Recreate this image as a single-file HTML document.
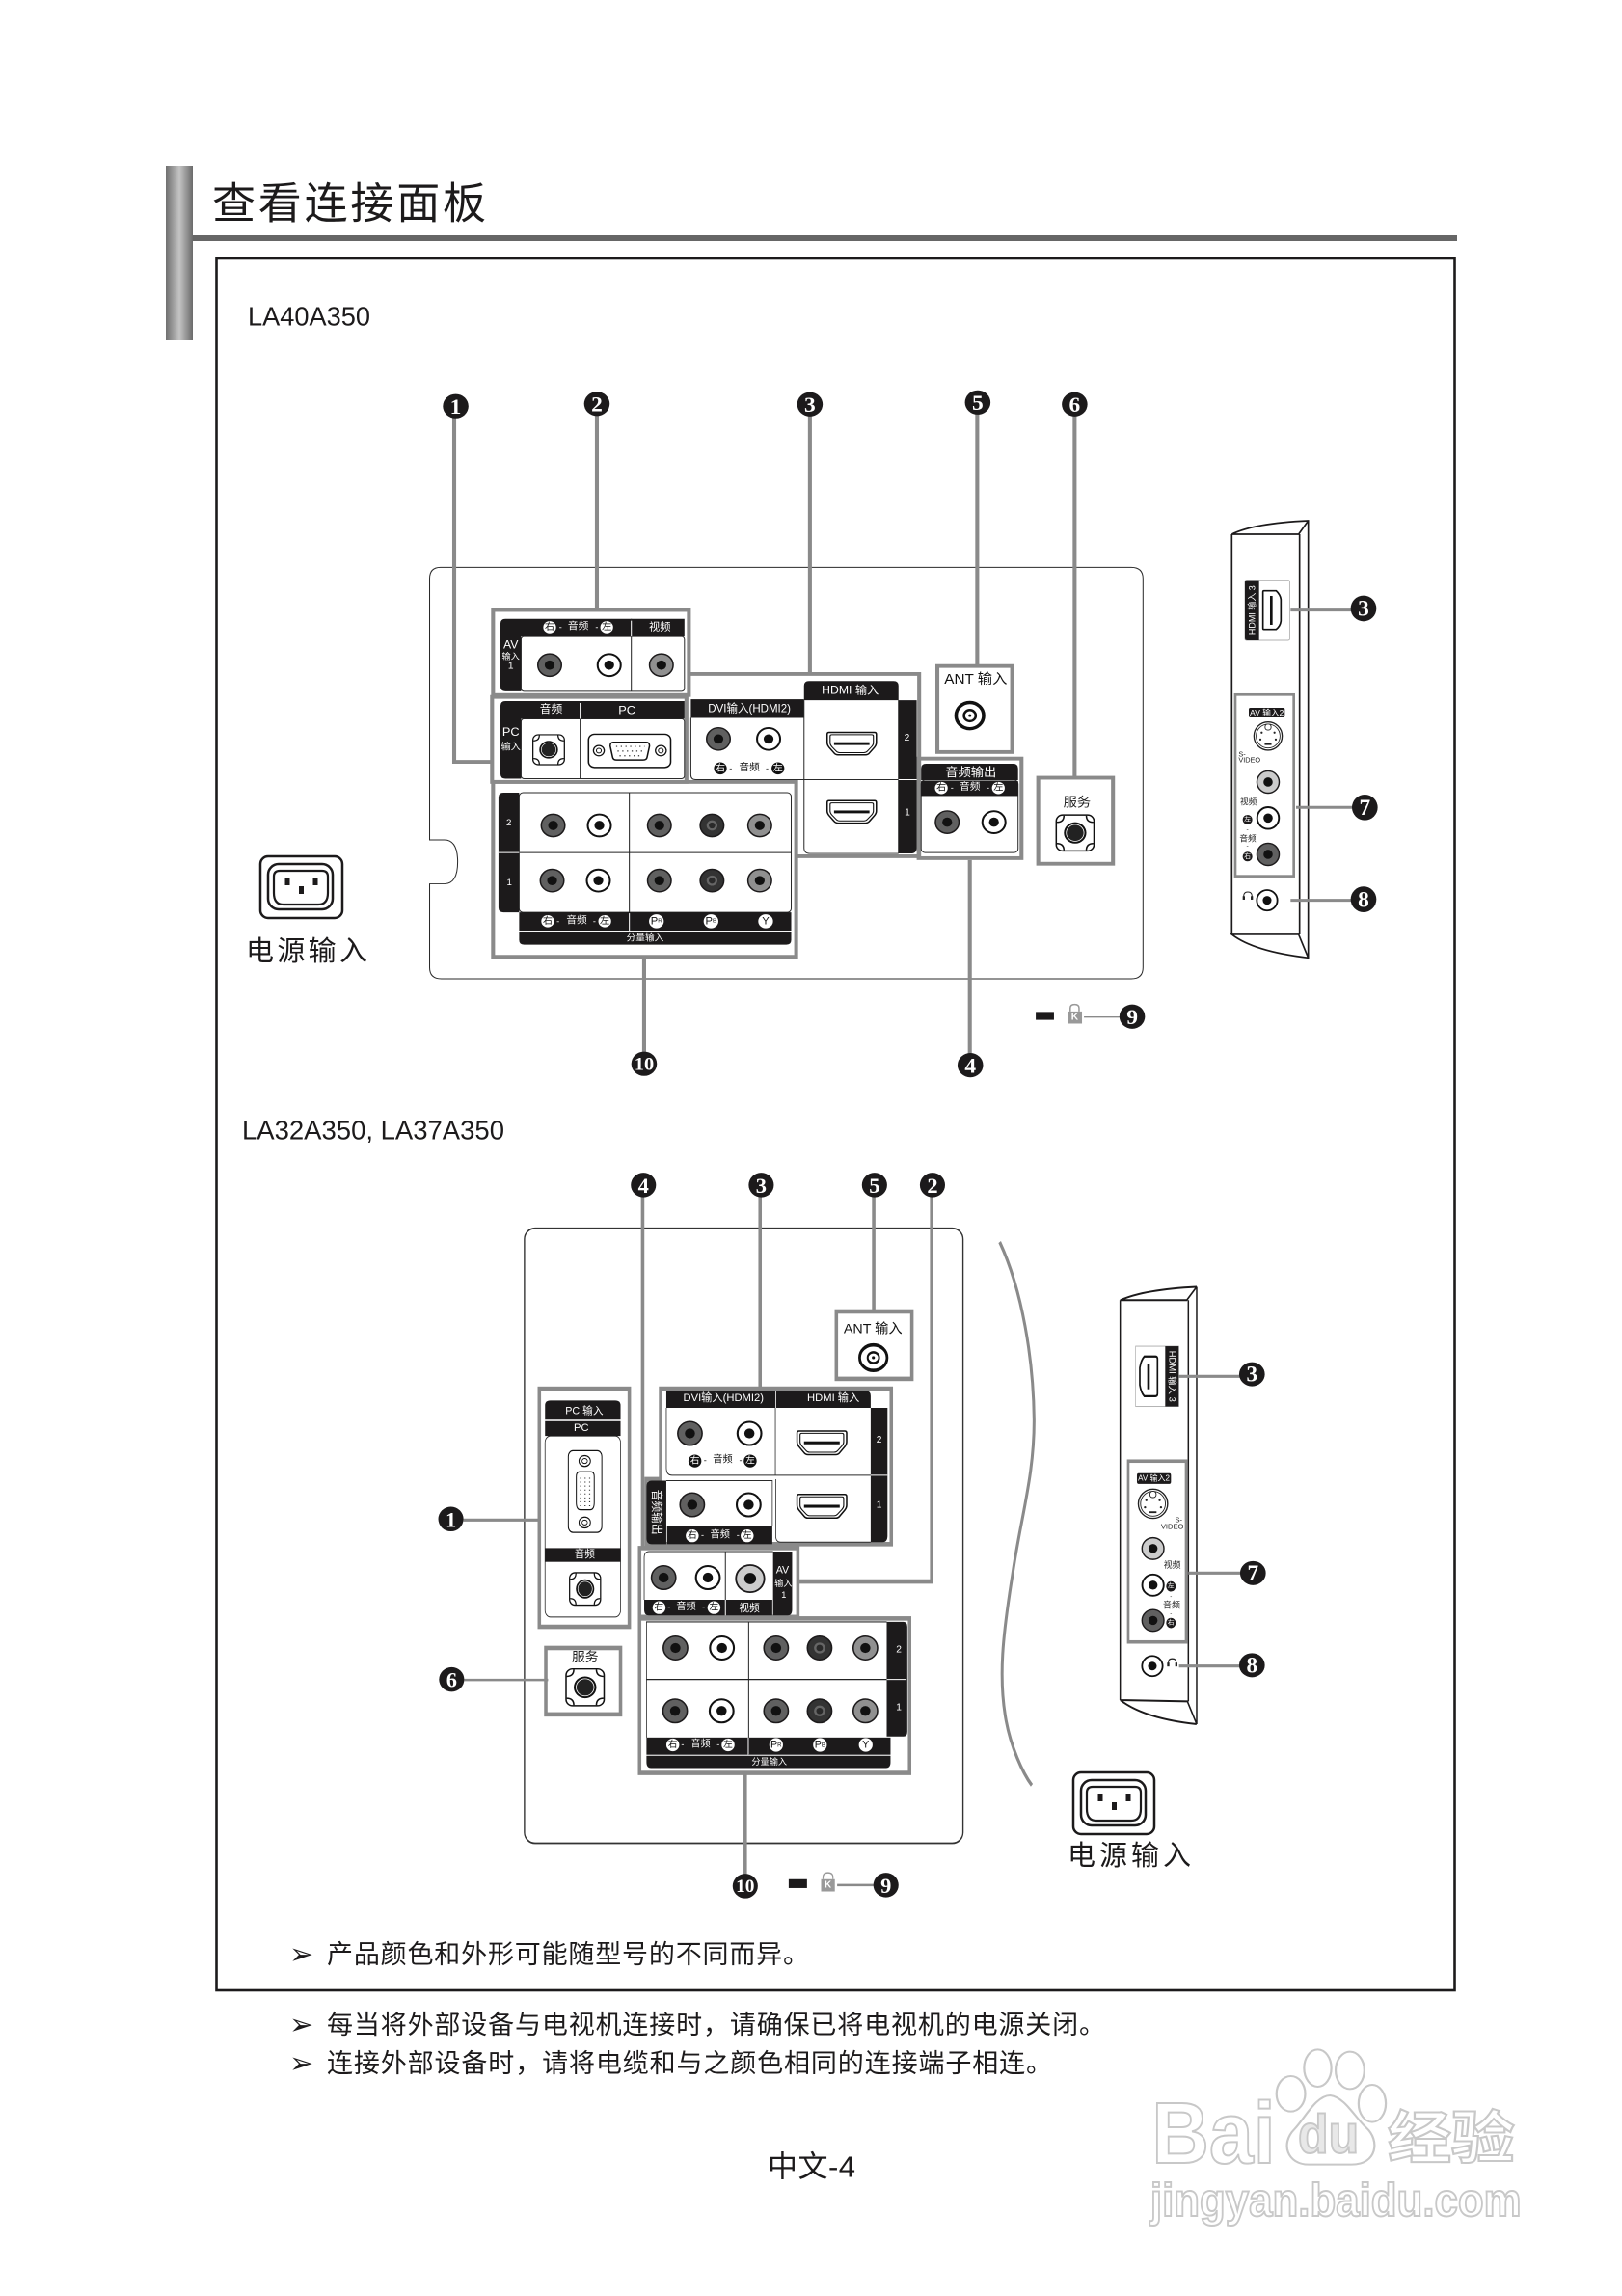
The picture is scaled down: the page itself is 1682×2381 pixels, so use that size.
<!DOCTYPE html>
<html><head><meta charset="utf-8">
<style>
html,body{margin:0;padding:0;background:#fff}
svg{display:block;font-family:"Liberation Sans","Noto Sans CJK SC",sans-serif}
text{dominant-baseline:central}
.m{text-anchor:middle}
.w{fill:#fff}
.k{fill:#111}
.n{font-family:"Liberation Serif",serif;font-weight:bold;fill:#fff;text-anchor:middle}
.s3{transform-box:fill-box;transform-origin:center;transform:scale(1.29,1)}
.s4{transform-box:fill-box;transform-origin:center;transform:scale(1.34,1)}
.g{fill:none;stroke:#8a8a8a;stroke-width:8}
.t{fill:none;stroke:#2a2a2a;stroke-width:2}
.b{fill:#1c1a1b}
</style></head><body>
<svg width="1682" height="2381" viewBox="0 0 1682 2381" xmlns="http://www.w3.org/2000/svg">
<defs>
<linearGradient id="bar" x1="0" x2="1" y1="0" y2="0"><stop offset="0" stop-color="#6f6f6f"/><stop offset=".5" stop-color="#c4c4c4"/><stop offset="1" stop-color="#6a6a6a"/></linearGradient>
<filter id="soft"><feGaussianBlur stdDeviation="0.9"/></filter>
<g id="jd"><circle r="24" fill="#606060" stroke="#1c1a1b" stroke-width="3"/><circle r="10" fill="#111"/></g>
<g id="jw"><circle r="23.500" fill="#fff" stroke="#111" stroke-width="4"/><circle r="10" fill="#111"/></g>
<g id="jg"><circle r="24" fill="#909090" stroke="#1c1a1b" stroke-width="3"/><circle r="10" fill="#111"/></g>
<g id="jl"><circle r="24" fill="#ccc" stroke="#1c1a1b" stroke-width="3"/><circle r="10" fill="#111"/></g>
<g id="jp"><circle r="24" fill="#333" stroke="#1c1a1b" stroke-width="3"/><circle r="11" fill="#666"/><circle r="6.500" fill="#2a2a2a"/></g>
<path id="hs" d="M-50,-20 Q-50,-24 -46,-24 H46 Q50,-24 50,-20 V-2 Q50,3 46,8 L36,20 Q33,24 28,24 H-28 Q-33,24 -36,20 L-46,8 Q-50,3 -50,-2 Z"/>
<g id="hd"><use href="#hs" fill="#fff" stroke="#111" stroke-width="3"/><use href="#hs" fill="none" stroke="#111" stroke-width="2.500" transform="scale(.88,.8)"/><rect x="-36" y="-3" width="72" height="6" fill="#111"/></g>
<g id="ps"><rect x="-32" y="-32" width="64" height="64" rx="11" fill="#fff" stroke="#111" stroke-width="2.500"/>
<path d="M-31,-19Q-19,-19 -19,-31M31,-19Q19,-19 19,-31M-31,19Q-19,19 -19,31M31,19Q19,19 19,31" fill="none" stroke="#111" stroke-width="2.500"/>
<circle r="19" fill="#111"/><circle r="15" fill="#222" stroke="#fff" stroke-width="1.300"/></g>
<g id="sv"><circle r="33" fill="#fff" stroke="#222" stroke-width="3"/><circle r="28" fill="#fff" stroke="#222" stroke-width="2"/><rect x="-7" y="-28" width="14" height="14" rx="6" fill="#fff" stroke="#222" stroke-width="2"/><rect x="-8" y="17" width="16" height="4" fill="#222"/><circle cx="-15" cy="-8" r="2.500" fill="#222"/><circle cx="15" cy="-8" r="2.500" fill="#222"/><circle cx="-18" cy="8" r="2.500" fill="#222"/><circle cx="18" cy="8" r="2.500" fill="#222"/></g>
</defs>

<rect width="1682" height="2381" fill="#fff"/>

<!-- page chrome -->
<rect x="172" y="172" width="28" height="181" fill="url(#bar)"/>
<rect x="200" y="244" width="1311" height="6" fill="#666"/>
<rect x="224.500" y="268" width="1284" height="1796" fill="none" stroke="#1c1a1b" stroke-width="2.600"/>
<text x="220" y="207" font-size="45" textLength="284" lengthAdjust="spacing" fill="#1c1a1b" font-family="'Noto Sans CJK SC',sans-serif">查看连接面板</text>
<text x="257" y="328" font-size="28" textLength="127" lengthAdjust="spacingAndGlyphs" fill="#1c1a1b">LA40A350</text>
<text x="251" y="1172" font-size="28" textLength="272" lengthAdjust="spacingAndGlyphs" fill="#1c1a1b">LA32A350, LA37A350</text>

<text x="300" y="2027" font-size="30" fill="#1c1a1b" font-family="'DejaVu Sans',sans-serif">➢</text>
<text x="339" y="2027" font-size="27" textLength="500" lengthAdjust="spacing" fill="#1c1a1b">产品颜色和外形可能随型号的不同而异。</text>
<text x="300" y="2100" font-size="30" fill="#1c1a1b" font-family="'DejaVu Sans',sans-serif">➢</text>
<text x="339" y="2100" font-size="27" textLength="807" lengthAdjust="spacing" fill="#1c1a1b">每当将外部设备与电视机连接时，请确保已将电视机的电源关闭。</text>
<text x="300" y="2140" font-size="30" fill="#1c1a1b" font-family="'DejaVu Sans',sans-serif">➢</text>
<text x="339" y="2140" font-size="27" textLength="752" lengthAdjust="spacing" fill="#1c1a1b">连接外部设备时，请将电缆和与之颜色相同的连接端子相连。</text>
<text x="796" y="2247" font-size="31" textLength="91" lengthAdjust="spacing" fill="#1c1a1b">中文-4</text>

<!-- power 1 -->
<g fill="none" stroke="#1c1a1b">
<rect x="270" y="888" width="85" height="64" rx="8" stroke-width="2.500"/>
<rect x="278" y="896" width="67" height="47" rx="11" stroke-width="2.500"/>
<path d="M290,903H334Q340,903 340,909V926Q340,938 330,938H294Q284,938 284,926V909Q284,903 290,903Z" stroke-width="2.200"/>
</g>
<g fill="#1c1a1b"><rect x="295.500" y="910" width="5" height="8"/><rect x="324.500" y="910" width="5" height="8"/><rect x="310" y="919" width="5" height="8"/></g>
<text x="255" y="987" font-size="29" textLength="126" lengthAdjust="spacing" fill="#1c1a1b">电源输入</text>

<!-- power 2 -->
<g fill="none" stroke="#1c1a1b">
<rect x="1113" y="1838" width="84" height="64" rx="8" stroke-width="2.500"/>
<rect x="1121" y="1846" width="67" height="47" rx="11" stroke-width="2.500"/>
<path d="M1133,1853H1177Q1183,1853 1183,1859V1876Q1183,1888 1173,1888H1137Q1127,1888 1127,1876V1859Q1127,1853 1133,1853Z" stroke-width="2.200"/>
</g>
<g fill="#1c1a1b"><rect x="1138.500" y="1860" width="5" height="8"/><rect x="1167.500" y="1860" width="5" height="8"/><rect x="1153" y="1869" width="5" height="8"/></g>
<text x="1107" y="1925" font-size="29" textLength="128" lengthAdjust="spacing" fill="#1c1a1b">电源输入</text>

<!-- ============ top back panel ============ -->
<g transform="translate(420,380) scale(.5102,.4847)">
<path class="t" d="M72,430H1476Q1500,430 1500,454V1286Q1500,1310 1476,1310H74Q50,1310 50,1286V1107H80Q107,1107 107,1060Q107,1013 80,1013H50V454Q50,430 72,430Z"/>
<g class="g">
<path d="M100,105V846H176"/><path d="M390,100V520"/><path d="M823,100V658"/><path d="M1163,100V640"/><path d="M1361,100V878"/>
<path d="M1148,1056V1470"/><path d="M486,1262V1470"/>
<rect x="179" y="521" width="398" height="182"/><rect x="177" y="707" width="395" height="182"/>
<rect x="179" y="889" width="616" height="374"/>
<path d="M577,658H1045V1048H797"/>
<rect x="1082" y="641" width="152" height="184"/><rect x="1044" y="839" width="209" height="213"/><rect x="1287" y="880" width="152" height="184"/>
</g>

<!-- AV1 -->
<rect x="236" y="578" width="332" height="117" rx="6" class="t" fill="none"/>
<path class="b" d="M204,540H568V578H236V695H204Q194,695 194,685V550Q194,540 204,540Z"/>
<path d="M460,540V695" stroke="#222" stroke-width="2"/><path d="M460,544V578" stroke="#fff" stroke-width="2"/>
<text x="215" y="595" font-size="24" class="m w">AV</text><text x="215" y="620" font-size="18" class="m w">输入</text><text x="215" y="642" font-size="20" class="m w">1</text>
<circle cx="294" cy="558" r="13" fill="#fff"/><text x="294" y="558" font-size="20" class="m k">右</text><text x="316" y="558" font-size="18" class="m w">-</text>
<text x="352" y="557" font-size="21" class="m w">音频</text><text x="390" y="558" font-size="18" class="m w">-</text>
<circle cx="410" cy="558" r="13" fill="#fff"/><text x="410" y="558" font-size="20" class="m k">左</text>
<text x="518" y="558" font-size="22" class="m w">视频</text>
<use href="#jd" x="294" y="639"/><use href="#jw" x="415" y="639"/><use href="#jg" x="521" y="639"/>

<!-- PC -->
<rect x="236" y="754" width="332" height="128" rx="6" class="t"/>
<path class="b" d="M204,716H568V754H236V882H204Q194,882 194,872V726Q194,716 204,716Z"/>
<path d="M356,716V882" stroke="#222" stroke-width="2"/><path d="M356,720V754" stroke="#fff" stroke-width="2"/>
<text x="297" y="735" font-size="23" class="m w">音频</text><text x="451" y="736" font-size="25" class="m w">PC</text>
<text x="215" y="782" font-size="25" class="m w">PC</text><text x="215" y="815" font-size="20" class="m w">输入</text>
<use href="#ps" x="292" y="820"/>
<rect x="373" y="787" width="167" height="71" rx="12" fill="#fff" stroke="#111" stroke-width="3"/>
<path d="M424,804H490Q497,804 497,812L492,836Q491,842 484,842H430Q423,842 422,836L417,812Q417,804 424,804Z" fill="#fff" stroke="#111" stroke-width="3"/>
<path d="M429,813H487M432,823H484M436,833H480" stroke="#333" stroke-width="2.500" stroke-dasharray="2.500 7" fill="none"/>
<circle cx="394" cy="822" r="11" fill="#fff" stroke="#111" stroke-width="2.500"/><circle cx="394" cy="822" r="5" fill="#fff" stroke="#111" stroke-width="2"/>
<circle cx="520" cy="822" r="11" fill="#fff" stroke="#111" stroke-width="2.500"/><circle cx="520" cy="822" r="5" fill="#fff" stroke="#111" stroke-width="2"/>

<!-- HDMI / DVI -->
<rect class="b" x="581" y="712" width="230" height="40"/>
<path class="b" d="M821,673H993Q1003,673 1003,683V714H811V683Q811,673 821,673Z"/>
<path class="t" d="M581,752V874Q581,884 591,884H1003M811,714V1030Q811,1042 823,1042H1003M1003,714V1042"/>
<path class="b" d="M1003,714H1040V1030Q1040,1042 1028,1042H1003Z"/>
<path d="M1003,884H1040" stroke="#fff" stroke-width="2"/>
<text x="700" y="732" font-size="25" textLength="168" lengthAdjust="spacingAndGlyphs" class="m w">DVI输入(HDMI2)</text>
<text x="905" y="692" font-size="24" class="m w">HDMI 输入</text>
<text x="1020" y="795" font-size="20" class="m w">2</text><text x="1021" y="955" font-size="20" class="m w">1</text>
<use href="#jd" x="637" y="797"/><use href="#jw" x="739" y="797"/>
<circle cx="641" cy="860" r="13" fill="#111"/><text x="641" y="860" font-size="20" class="m w">右</text><text x="662" y="860" font-size="18" class="m k">-</text>
<text x="700" y="859" font-size="21" class="m k">音频</text><text x="736" y="860" font-size="18" class="m k">-</text>
<circle cx="758" cy="860" r="13" fill="#111"/><text x="758" y="860" font-size="20" class="m w">左</text>
<use href="#hd" x="908" y="807"/><use href="#hd" x="908" y="953"/>

<!-- ANT -->
<text x="1160" y="670" font-size="30" class="m k">ANT 输入</text>
<circle cx="1148" cy="747" r="28" fill="#fff" stroke="#111" stroke-width="7"/><circle cx="1148" cy="747" r="12" fill="#fff" stroke="#111" stroke-width="5"/><circle cx="1148" cy="747" r="3" fill="#111"/>

<!-- audio out -->
<rect x="1049" y="885" width="197" height="155" rx="8" class="t"/>
<path class="b" d="M1059,850H1236Q1246,850 1246,860V885H1049V860Q1049,850 1059,850Z"/>
<rect class="b" x="1049" y="887" width="197" height="32"/>
<text x="1150" y="868" font-size="26" class="m w">音频输出</text>
<circle cx="1090" cy="902" r="13" fill="#fff"/><text x="1090" y="902" font-size="20" class="m k">右</text><text x="1112" y="902" font-size="18" class="m w">-</text>
<text x="1148" y="901" font-size="21" class="m w">音频</text><text x="1185" y="902" font-size="18" class="m w">-</text>
<circle cx="1206" cy="902" r="13" fill="#fff"/><text x="1206" y="902" font-size="20" class="m k">左</text>
<use href="#jd" x="1102" y="975"/><use href="#jw" x="1197" y="975"/>

<!-- service -->
<text x="1366" y="932" font-size="28" class="m" fill="#222">服务</text>
<g transform="translate(1362,998) scale(1.2)"><use href="#ps"/></g>

<!-- component -->
<rect x="232" y="912" width="553" height="256" rx="8" class="t"/>
<path class="b" d="M200,912H232V1168H200Q190,1168 190,1158V922Q190,912 200,912Z"/>
<path d="M456,912V1168M232,1040H785" stroke="#222" stroke-width="2"/>
<path d="M190,1040H232" stroke="#fff" stroke-width="2"/>
<rect class="b" x="232" y="1168" width="553" height="39"/>
<path class="b" d="M232,1209H785V1227Q785,1237 775,1237H242Q232,1237 232,1227Z"/>
<path d="M456,1170V1207" stroke="#fff" stroke-width="2"/>
<text x="211" y="977" font-size="19" class="m w">2</text><text x="212" y="1105" font-size="19" class="m w">1</text>
<use href="#jd" x="301" y="982"/><use href="#jw" x="395" y="982"/><use href="#jd" x="517" y="982"/><use href="#jp" x="624" y="982"/><use href="#jg" x="721" y="982"/>
<use href="#jd" x="299" y="1100"/><use href="#jw" x="393" y="1100"/><use href="#jd" x="517" y="1100"/><use href="#jp" x="624" y="1100"/><use href="#jg" x="721" y="1100"/>
<circle cx="290" cy="1187" r="13" fill="#fff"/><text x="290" y="1187" font-size="20" class="m k">右</text><text x="311" y="1187" font-size="18" class="m w">-</text>
<text x="349" y="1186" font-size="21" class="m w">音频</text><text x="385" y="1187" font-size="18" class="m w">-</text>
<circle cx="406" cy="1187" r="13" fill="#fff"/><text x="406" y="1187" font-size="20" class="m k">左</text>
<circle cx="511" cy="1187" r="15" fill="#fff"/><text x="511" y="1187" font-size="22" class="m k">P<tspan font-size="12">R</tspan></text>
<circle cx="622" cy="1187" r="15" fill="#fff"/><text x="622" y="1187" font-size="22" class="m k">P<tspan font-size="12">B</tspan></text>
<circle cx="733" cy="1187" r="15" fill="#fff"/><text x="733" y="1187" font-size="22" class="m k">Y</text>
<text x="488" y="1224" font-size="19" class="m w">分量输入</text>

<!-- kensington -->
<rect x="1282" y="1381" width="37" height="17" fill="#1c1a1b"/>
<path d="M1352,1380V1373Q1352,1365 1361,1365Q1370,1365 1370,1373V1380" fill="none" stroke="#999" stroke-width="3"/>
<rect x="1347" y="1380" width="29" height="26" fill="#999"/><text x="1361" y="1393" font-size="20" font-weight="bold" class="m w">K</text>
<path d="M1380,1392H1454" fill="none" stroke="#8a8a8a" stroke-width="3"/>

<!-- badges -->
<circle cx="103" cy="85" r="26" class="b"/><text x="103" y="86" font-size="46" class="n">1</text>
<circle cx="390" cy="80" r="26" class="b"/><text x="390" y="81" font-size="46" class="n">2</text>
<circle cx="823" cy="81" r="26" class="b"/><text x="823" y="82" font-size="46" class="n">3</text>
<circle cx="1164" cy="77" r="26" class="b"/><text x="1164" y="78" font-size="46" class="n">5</text>
<circle cx="1361" cy="81" r="26" class="b"/><text x="1361" y="82" font-size="46" class="n">6</text>
<circle cx="1149" cy="1495" r="26" class="b"/><text x="1149" y="1496" font-size="46" class="n">4</text>
<circle cx="486" cy="1492" r="26" class="b"/><text x="486" y="1493" font-size="40" class="n">10</text>
<circle cx="1478" cy="1391" r="26" class="b"/><text x="1478" y="1392" font-size="46" class="n">9</text>
</g>

<!-- ============ top side panel ============ -->
<g transform="translate(1240,520) scale(.3333)">
<g fill="none" stroke="#1c1a1b" stroke-width="5">
<path d="M112,102V1347M323,102V1347M112,102H320L350,60M112,102Q180,68 350,60V1420Q180,1400 112,1347H320L350,1420"/>
</g>
<rect x="153" y="245" width="139" height="187" rx="4" fill="#fff" stroke="#999" stroke-width="2"/>
<path class="b" d="M160,245H197V432H160Q153,432 153,425V252Q153,245 160,245Z"/>
<text transform="translate(175,338) rotate(-90)" font-size="27" class="m w">HDMI 输入 3</text>
<path d="M212,278H250Q263,290 265,305V372Q263,388 250,398H212Q209,398 209,394V282Q209,278 212,278Z" fill="#fff" stroke="#111" stroke-width="5"/>
<rect x="231" y="294" width="8" height="90" fill="#111"/>
<path d="M295,338H485M312,952H488M295,1241H485" fill="none" stroke="#8a8a8a" stroke-width="9"/>
<circle cx="522" cy="333" r="40" class="b"/><text x="522" y="335" font-size="70" class="n">3</text>
<circle cx="526" cy="952" r="40" class="b"/><text x="526" y="954" font-size="70" class="n">7</text>
<circle cx="522" cy="1238" r="40" class="b"/><text x="522" y="1240" font-size="70" class="n">8</text>
<rect x="123" y="601" width="182" height="565" fill="none" stroke="#8a8a8a" stroke-width="8"/>
<rect x="165" y="642" width="112" height="30" rx="5" class="b"/><text x="221" y="657" font-size="26" class="m w">AV 输入2</text>
<g transform="translate(225,730) scale(1.33)"><use href="#sv"/></g>
<text x="133" y="786" font-size="22" fill="#222">S-</text><text x="133" y="804" font-size="22" fill="#222">VIDEO</text>
<g transform="translate(225,873) scale(1.44)"><use href="#jl"/></g>
<g transform="translate(225,985) scale(1.44)"><use href="#jw"/></g>
<g transform="translate(225,1098) scale(1.44)"><use href="#jd"/></g>
<text x="164" y="935" font-size="26" class="m" fill="#222">视频</text>
<circle cx="161" cy="990" r="15" class="b"/><text x="161" y="990" font-size="21" class="m w">左</text>
<text x="161" y="1021" font-size="20" class="m" fill="#222">-</text>
<text x="162" y="1048" font-size="26" class="m" fill="#222">音频</text>
<text x="161" y="1072" font-size="20" class="m" fill="#222">-</text>
<circle cx="161" cy="1105" r="15" class="b"/><text x="161" y="1105" font-size="21" class="m w">右</text>
<g transform="translate(222,1241) scale(1.36)"><use href="#jw"/></g>
<path d="M149,1238V1228Q149,1215 162,1215Q175,1215 175,1228V1238" fill="none" stroke="#222" stroke-width="3"/><rect x="146" y="1228" width="7" height="11" fill="#222"/><rect x="171" y="1228" width="7" height="11" fill="#222"/>
</g>

<!-- ============ lower back panel ============ -->
<g transform="translate(430,1210) scale(.3954,.5102)">
<rect x="288" y="125" width="1150" height="1250" rx="28" ry="22" fill="none" stroke="#333" stroke-width="3.500"/>
<g class="g" style="stroke-width:9">
<path d="M598,60V775"/><path d="M906,60V451"/><path d="M1204,60V294"/>
<path d="M1356,60V843H1006"/><path d="M867,1232V1440"/>
<path d="M128,718H327" stroke-width="6"/><path d="M130,1043H350" stroke-width="5"/><path d="M1108,1460H1205" stroke-width="5"/>
<rect x="327" y="451" width="236" height="484"/>
<rect x="344" y="978" width="196" height="135"/>
<rect x="1106" y="294" width="198" height="137"/>
<path d="M645,635V451H1250V767H607V635Z"/>
<rect x="590" y="775" width="415" height="140"/>
<rect x="590" y="918" width="708" height="314"/>
</g>

<!-- PC -->
<rect x="342" y="547" width="198" height="368" rx="14" class="t" fill="none"/>
<path class="b" d="M356,475H526Q540,475 540,485V514H342V485Q342,475 356,475Z"/><rect class="b" x="342" y="517" width="198" height="30"/>
<text x="445" y="497" font-size="21" class="m w s3">PC 输入</text><text x="437" y="531" font-size="22" class="m w s3">PC</text>
<rect x="403" y="577" width="88" height="166" rx="12" fill="#fff" stroke="#111" stroke-width="2.500"/>
<path d="M432,620H463Q471,620 471,630V682Q471,697 460,697H435Q424,697 424,682V630Q424,620 432,620Z" fill="#fff" stroke="#111" stroke-width="2.500"/>
<path d="M435,632V690M447,632V690M459,632V690" stroke="#333" stroke-width="3" stroke-dasharray="2 6" fill="none"/>
<ellipse cx="446" cy="598" rx="15" ry="11" fill="#fff" stroke="#111" stroke-width="2.500"/><ellipse cx="446" cy="598" rx="7" ry="5" fill="#fff" stroke="#111" stroke-width="2"/>
<ellipse cx="446" cy="723" rx="15" ry="11" fill="#fff" stroke="#111" stroke-width="2.500"/><ellipse cx="446" cy="723" rx="7" ry="5" fill="#fff" stroke="#111" stroke-width="2"/>
<rect class="b" x="342" y="775" width="198" height="28"/><text x="446" y="788" font-size="21" class="m w s3">音频</text>
<g transform="translate(447,858) scale(1.27,1.03)"><use href="#ps"/></g>

<!-- service -->
<text x="447" y="997" font-size="27" class="m s3" fill="#222">服务</text>
<g transform="translate(447,1058) scale(1.56,1.17)"><use href="#ps"/></g>

<!-- ANT -->
<text x="1202" y="330" font-size="28" class="m s3 k">ANT 输入</text>
<ellipse cx="1203" cy="388" rx="36" ry="26" fill="#fff" stroke="#111" stroke-width="7"/><ellipse cx="1203" cy="388" rx="15" ry="11" fill="#fff" stroke="#111" stroke-width="5"/><ellipse cx="1203" cy="388" rx="4" ry="3" fill="#111"/>

<!-- DVI/HDMI -->
<path class="b" d="M660,456H946V490H660Z"/><path class="b" d="M948,456H1186Q1196,456 1196,466V490H948Z"/>
<path class="t" d="M660,490V612Q660,627 675,627H1196M946,490V627M947,635V750Q947,763 960,763H1196"/>
<path class="b" d="M1196,490H1240V750Q1240,763 1227,763H1196Z"/><path d="M1196,627H1240" stroke="#fff" stroke-width="2"/>
<text x="810" y="470" font-size="22" class="m w s3">DVI输入(HDMI2)</text><text x="1098" y="470" font-size="22" class="m w s3">HDMI 输入</text>
<text x="1218" y="556" font-size="20" class="m w s3">2</text><text x="1218" y="688" font-size="20" class="m w s3">1</text>
<g transform="translate(722,542) scale(1.33,1)"><use href="#jd"/></g><g transform="translate(878,542) scale(1.33,1)"><use href="#jw"/></g>
<ellipse cx="735" cy="598" rx="17" ry="13" fill="#111"/><text x="735" y="598" font-size="19" class="m w s3">右</text><text x="762" y="597" font-size="18" class="m k s3">-</text>
<text x="808" y="596" font-size="20" class="m k s3">音频</text><text x="855" y="597" font-size="18" class="m k s3">-</text>
<ellipse cx="880" cy="598" rx="17" ry="13" fill="#111"/><text x="880" y="598" font-size="19" class="m w s3">左</text>
<g transform="translate(1068,561) scale(1.3,1)"><use href="#hd"/></g><g transform="translate(1068,690) scale(1.3,1)"><use href="#hd"/></g>

<!-- audio out -->
<path class="b" d="M622,638H660V767H622Q608,767 608,755V650Q608,638 622,638Z"/>
<path class="t" d="M660,638H938V730"/>
<rect class="b" x="662" y="730" width="276" height="37"/>
<text transform="translate(634,702) rotate(90) scale(1,1.29)" font-size="23" class="m w">音频输出</text>
<g transform="translate(728,687) scale(1.33,1)"><use href="#jd"/></g><g transform="translate(876,687) scale(1.33,1)"><use href="#jw"/></g>
<ellipse cx="728" cy="750" rx="17" ry="13" fill="#fff"/><text x="728" y="750" font-size="19" class="m k s3">右</text><text x="755" y="749" font-size="18" class="m w s3">-</text>
<text x="801" y="749" font-size="20" class="m w s3">音频</text><text x="848" y="749" font-size="18" class="m w s3">-</text>
<ellipse cx="872" cy="750" rx="17" ry="13" fill="#fff"/><text x="872" y="750" font-size="19" class="m k s3">左</text>

<!-- AV -->
<path class="t" d="M602,880V795Q602,782 615,782H940"/><path d="M815,782V880" stroke="#222" stroke-width="2.500"/>
<g transform="translate(653,835) scale(1.33,1)"><use href="#jd"/></g><g transform="translate(769,835) scale(1.33,1)"><use href="#jw"/></g><g transform="translate(880,837) scale(1.55,1.15)"><use href="#jl"/></g>
<path class="b" d="M602,880H938V912H614Q602,912 602,900Z"/>
<path d="M815,880V912" stroke="#fff" stroke-width="2.500"/>
<path class="b" d="M940,782H990V900Q990,912 978,912H940Z"/>
<ellipse cx="641" cy="896" rx="17" ry="13" fill="#fff"/><text x="641" y="896" font-size="19" class="m k s3">右</text><text x="667" y="895" font-size="18" class="m w s3">-</text>
<text x="712" y="895" font-size="20" class="m w s3">音频</text><text x="758" y="895" font-size="18" class="m w s3">-</text>
<ellipse cx="785" cy="896" rx="17" ry="13" fill="#fff"/><text x="785" y="896" font-size="19" class="m k s3">左</text>
<text x="878" y="898" font-size="21" class="m w s3">视频</text>
<text x="965" y="820" font-size="21" class="m w s3">AV</text><text x="967" y="847" font-size="18" class="m w s3">输入</text><text x="968" y="870" font-size="18" class="m w s3">1</text>

<!-- component -->
<path class="t" d="M608,1160V925H1238"/>
<path d="M876,925V1195M608,1042H1238" stroke="#222" stroke-width="2.500"/>
<path class="b" d="M1238,925H1282Q1292,925 1292,935V1148Q1292,1158 1282,1158H1238Z"/>
<path d="M1238,1042H1290" stroke="#fff" stroke-width="2"/>
<text x="1270" y="982" font-size="20" class="m w s3">2</text><text x="1270" y="1100" font-size="20" class="m w s3">1</text>
<rect class="b" x="608" y="1160" width="640" height="35"/>
<path class="b" d="M608,1197H1248V1210Q1248,1222 1236,1222H620Q608,1222 608,1210Z"/>
<path d="M875,1160V1195" stroke="#fff" stroke-width="2.500"/>
<g transform="translate(684,978) scale(1.33,1)"><use href="#jd"/></g><g transform="translate(806,978) scale(1.33,1)"><use href="#jw"/></g><g transform="translate(948,978) scale(1.33,1)"><use href="#jd"/></g><g transform="translate(1062,978) scale(1.33,1)"><use href="#jp"/></g><g transform="translate(1182,978) scale(1.33,1)"><use href="#jg"/></g>
<g transform="translate(683,1106) scale(1.33,1)"><use href="#jd"/></g><g transform="translate(805,1106) scale(1.33,1)"><use href="#jw"/></g><g transform="translate(948,1106) scale(1.33,1)"><use href="#jd"/></g><g transform="translate(1062,1106) scale(1.33,1)"><use href="#jp"/></g><g transform="translate(1182,1106) scale(1.33,1)"><use href="#jg"/></g>
<ellipse cx="677" cy="1175" rx="17" ry="13" fill="#fff"/><text x="677" y="1175" font-size="19" class="m k s3">右</text><text x="703" y="1174" font-size="18" class="m w s3">-</text>
<text x="750" y="1174" font-size="20" class="m w s3">音频</text><text x="796" y="1174" font-size="18" class="m w s3">-</text>
<ellipse cx="822" cy="1175" rx="17" ry="13" fill="#fff"/><text x="822" y="1175" font-size="19" class="m k s3">左</text>
<ellipse cx="948" cy="1175" rx="18" ry="14" fill="#fff"/><text x="948" y="1175" font-size="21" class="m k s3">P<tspan font-size="12">R</tspan></text>
<ellipse cx="1063" cy="1175" rx="18" ry="14" fill="#fff"/><text x="1063" y="1175" font-size="21" class="m k s3">P<tspan font-size="12">B</tspan></text>
<ellipse cx="1183" cy="1175" rx="18" ry="14" fill="#fff"/><text x="1183" y="1175" font-size="21" class="m k s3">Y</text>
<text x="930" y="1209" font-size="18" class="m w s3">分量输入</text>

<!-- kensington -->
<rect x="981" y="1448" width="48" height="18" fill="#1c1a1b"/>
<path d="M1071,1448V1444Q1071,1435 1084,1435Q1097,1435 1097,1444V1448" fill="none" stroke="#999" stroke-width="3"/>
<rect x="1066" y="1448" width="36" height="25" fill="#999"/><text x="1084" y="1460" font-size="19" font-weight="bold" class="m w s3">K</text>

<ellipse cx="600" cy="37" rx="33" ry="25" class="b"/><text x="600" y="38" font-size="44" class="n s3">4</text>
<ellipse cx="909" cy="37" rx="33" ry="25" class="b"/><text x="909" y="38" font-size="44" class="n s3">3</text>
<ellipse cx="1206" cy="37" rx="33" ry="25" class="b"/><text x="1206" y="38" font-size="44" class="n s3">5</text>
<ellipse cx="1358" cy="37" rx="33" ry="25" class="b"/><text x="1358" y="38" font-size="44" class="n s3">2</text>
<ellipse cx="95" cy="716" rx="33" ry="25" class="b"/><text x="95" y="717" font-size="44" class="n s3">1</text>
<ellipse cx="97" cy="1042" rx="33" ry="25" class="b"/><text x="97" y="1043" font-size="44" class="n s3">6</text>
<ellipse cx="867" cy="1462" rx="33" ry="25" class="b"/><text x="867" y="1463" font-size="38" class="n s3">10</text>
<ellipse cx="1236" cy="1460" rx="33" ry="25" class="b"/><text x="1236" y="1461" font-size="44" class="n s3">9</text>
</g>

<!-- ============ lower side panel + curve ============ -->
<g transform="translate(1030,1280) scale(.3333,.4464)">
<path d="M20,18C90,130 125,290 127,430C128,560 85,660 60,790C30,930 15,1030 40,1130C55,1190 90,1250 120,1280" fill="none" stroke="#8a8a8a" stroke-width="9"/>
<g fill="none" stroke="#1c1a1b" stroke-width="4.500">
<path d="M395,153V1082M607,153V1085M633,122V1138M395,153H602L633,122M395,153Q470,128 633,122M395,1082Q470,1125 633,1138M395,1082L604,1085L633,1138"/>
</g>
<rect x="443" y="260" width="134" height="140" fill="#fff" stroke="#aaa" stroke-width="2"/>
<rect class="b" x="535" y="260" width="42" height="140"/>
<text transform="translate(556,330) rotate(90) scale(1,1.34)" font-size="21" class="m w">HDMI 输入 3</text>
<path d="M470,284H505Q511,284 511,290V370Q511,376 505,376H470Q460,368 456,350V310Q460,292 470,284Z" fill="#fff" stroke="#111" stroke-width="5"/>
<rect x="479" y="302" width="8" height="58" fill="#111"/>
<path d="M577,330H770M607,787H770M578,1003H770" fill="none" stroke="#8a8a8a" stroke-width="7"/>
<ellipse cx="805" cy="325" rx="40" ry="28" class="b"/><text x="805" y="326" font-size="52" class="n s4">3</text>
<ellipse cx="808" cy="787" rx="40" ry="28" class="b"/><text x="808" y="788" font-size="52" class="n s4">7</text>
<ellipse cx="805" cy="1001" rx="40" ry="28" class="b"/><text x="805" y="1002" font-size="52" class="n s4">8</text>
<rect x="420" y="527" width="180" height="420" fill="none" stroke="#8a8a8a" stroke-width="8"/>
<rect x="447" y="555" width="106" height="25" rx="5" class="b"/><text x="500" y="567" font-size="18" class="m w s4">AV 输入2</text>
<g transform="translate(497,626) scale(1.38,1.03)"><use href="#sv"/></g>
<text x="577" y="663" font-size="17" class="m s4" fill="#222">S-</text><text x="557" y="679" font-size="17" class="m s4" fill="#222">VIDEO</text>
<g transform="translate(497,730) scale(1.42,1.05)"><use href="#jl"/></g>
<g transform="translate(497,815) scale(1.42,1.05)"><use href="#jw"/></g>
<g transform="translate(497,897) scale(1.42,1.05)"><use href="#jd"/></g>
<text x="557" y="768" font-size="20" class="m s4" fill="#222">视频</text>
<ellipse cx="553" cy="818" rx="15" ry="12" class="b"/><text x="553" y="818" font-size="15" class="m w s4">左</text>
<text x="553" y="842" font-size="14" class="m s4" fill="#222">-</text>
<text x="555" y="861" font-size="20" class="m s4" fill="#222">音频</text>
<text x="553" y="882" font-size="14" class="m s4" fill="#222">-</text>
<ellipse cx="553" cy="903" rx="15" ry="12" class="b"/><text x="553" y="903" font-size="15" class="m w s4">右</text>
<g transform="translate(495,1003) scale(1.36,1)"><use href="#jw"/></g>
<path d="M545,1003V994Q545,986 557,986Q569,986 569,994V1003" fill="none" stroke="#222" stroke-width="3"/><rect x="541" y="995" width="7" height="9" fill="#222"/><rect x="566" y="995" width="7" height="9" fill="#222"/>
</g>

<!-- watermark -->
<g transform="translate(1097,2073) scale(.3717,.3333)" fill="#fff" stroke="#c8c8c8" stroke-width="6" filter="url(#soft)">
<ellipse cx="650" cy="295" rx="40" ry="55"/><ellipse cx="725" cy="215" rx="38" ry="58"/><ellipse cx="815" cy="222" rx="40" ry="58"/><ellipse cx="877" cy="325" rx="38" ry="58"/>
<path d="M760,300C800,305 830,370 860,400C900,440 890,515 820,515H700C640,515 620,450 660,405C690,370 720,300 760,300Z"/>
<text x="262" y="420" font-size="270" font-weight="bold" textLength="345" lengthAdjust="spacingAndGlyphs" font-family="'Liberation Sans',sans-serif">Bai</text>
<text x="670" y="420" font-size="170" textLength="170" lengthAdjust="spacingAndGlyphs" font-weight="bold" font-family="'Liberation Sans',sans-serif" fill="#e8e8e8">du</text>
<text x="920" y="420" font-size="178" font-weight="bold" textLength="355" lengthAdjust="spacing" font-family="'Noto Sans CJK SC',sans-serif">经验</text>
<text x="258" y="625" font-size="145" font-weight="bold" textLength="1035" lengthAdjust="spacingAndGlyphs" font-family="'Liberation Sans',sans-serif">jingyan.baidu.com</text>
</g>
</svg>
</body></html>
